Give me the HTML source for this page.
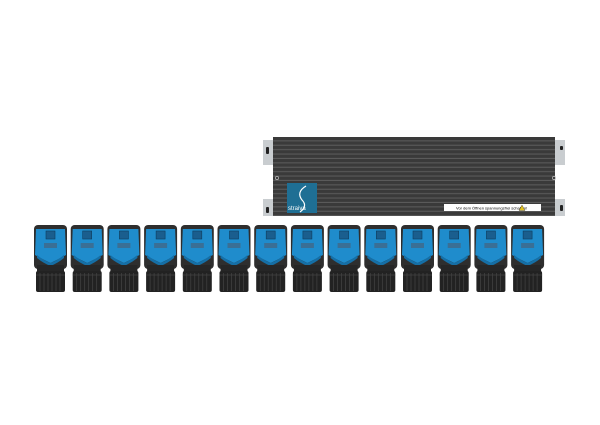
<!DOCTYPE html>
<html><head><style>body{margin:0;background:#fff}svg{display:block}</style></head><body>
<svg width="600" height="425" viewBox="0 0 600 425" xmlns="http://www.w3.org/2000/svg">
<defs>
<pattern id="ribs" x="0" y="137" width="10" height="4.4" patternUnits="userSpaceOnUse">
<rect width="10" height="4.4" fill="#3a3a3a"/><rect y="3.3" width="10" height="1.1" fill="#5a5a5a"/>
</pattern>
<g id="m">
<rect x="1" y="0" width="33" height="44" rx="4" fill="#2e2e2e"/>
<path d="M3 4 L32 4 L33 30 Q26 34 17.5 38 Q9 34 2 30 Z" fill="#1f8ccc"/>
<path d="M4 30 Q10 35 17.5 38 Q25 35 31 30 L31 33 Q25 38 17.5 41 Q10 38 4 33 Z" fill="#156fa6"/>
<rect x="13" y="6" width="9" height="8" fill="#1a5e8e" stroke="#0d3d5e" stroke-width="0.6"/>
<rect x="11" y="18" width="13" height="5" fill="#3a6f95"/>
<rect x="4" y="40" width="27" height="7" fill="#262626"/>
<rect x="3" y="46" width="29" height="21" rx="2" fill="#222"/>
<g stroke="#444" stroke-width="0.7">
<line x1="7" y1="48" x2="7" y2="66"/><line x1="11" y1="48" x2="11" y2="66"/><line x1="15" y1="48" x2="15" y2="66"/><line x1="19" y1="48" x2="19" y2="66"/><line x1="23" y1="48" x2="23" y2="66"/><line x1="27" y1="48" x2="27" y2="66"/>
<line x1="3" y1="50" x2="32" y2="50"/></g>
</g>
</defs>
<!-- brackets -->
<rect x="263" y="140" width="11" height="25" fill="#c9cdd0"/>
<rect x="263" y="199" width="11" height="17" fill="#c9cdd0"/>
<rect x="554" y="140" width="11" height="25" fill="#c9cdd0"/>
<rect x="554" y="199" width="11" height="17" fill="#c9cdd0"/>
<rect x="266" y="147" width="3" height="7" rx="1" fill="#222"/>
<rect x="266" y="207" width="3" height="6" rx="1" fill="#222"/>
<rect x="560" y="146" width="3" height="4" rx="1" fill="#222"/>
<rect x="560" y="205" width="3" height="6" rx="1" fill="#222"/>
<!-- body -->
<rect x="273" y="137" width="282" height="79" fill="url(#ribs)"/>
<circle cx="277" cy="178" r="1.6" fill="none" stroke="#bbb" stroke-width="0.7"/>
<circle cx="554" cy="178" r="1.6" fill="none" stroke="#bbb" stroke-width="0.7"/>
<rect x="287" y="183" width="30" height="30" fill="#1f6f94"/>
<path d="M306 186 Q296 192 302 200 Q308 206 300 212" stroke="#fff" stroke-width="1.2" fill="none"/>
<text x="288" y="210" font-family="Liberation Sans, sans-serif" font-size="6" fill="#fff">straiva</text>
<rect x="444" y="204" width="97" height="7" fill="#fff"/>
<text x="456" y="209.5" font-family="Liberation Sans, sans-serif" font-size="4" fill="#000">Vor dem Öffnen spannungsfrei schalten!</text>
<path d="M522 205 L525 210.5 L519 210.5 Z" fill="#e0c020" stroke="#333" stroke-width="0.4"/>
<!-- modules -->
<use href="#m" x="33" y="225"/><use href="#m" x="69.7" y="225"/><use href="#m" x="106.4" y="225"/><use href="#m" x="143.1" y="225"/><use href="#m" x="179.8" y="225"/><use href="#m" x="216.5" y="225"/><use href="#m" x="253.2" y="225"/><use href="#m" x="289.9" y="225"/><use href="#m" x="326.6" y="225"/><use href="#m" x="363.3" y="225"/><use href="#m" x="400" y="225"/><use href="#m" x="436.7" y="225"/><use href="#m" x="473.4" y="225"/><use href="#m" x="510.1" y="225"/>
</svg>
</body></html>
